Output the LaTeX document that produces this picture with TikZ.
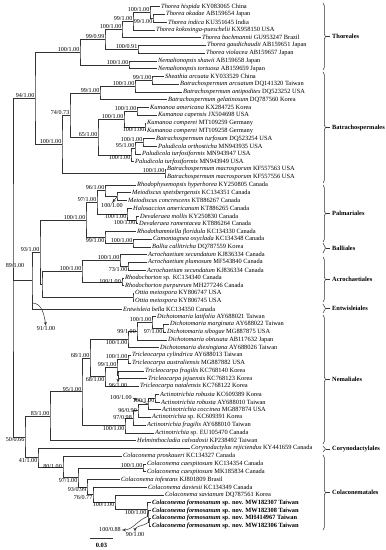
\documentclass[tikz,border=0pt]{standalone}
\usepackage{fontspec}
\setmainfont{Liberation Serif}
\usetikzlibrary{arrows,decorations.pathreplacing}

\begin{document}
\begin{tikzpicture}[
    x=1pt, y=-1pt,
    br/.style = {draw=black!80, line width=0.6pt},
    tip/.style = {anchor=west, inner sep=1pt, font=\fontsize{6.4}{7}\selectfont},
    newsp/.style = {tip, font=\fontsize{6.4}{7}\selectfont\bfseries},
    bsa/.style = {anchor=south east, inner sep=0.5pt, font=\fontsize{6.1}{7}\selectfont},
    bsb/.style = {anchor=north east, inner sep=0.5pt, font=\fontsize{6.1}{7}\selectfont},
    bsl/.style = {anchor=east, inner sep=1pt, font=\fontsize{6.1}{7}\selectfont},
    bsf/.style = {inner sep=0.5pt, font=\fontsize{6.1}{7}\selectfont},
    order/.style = {anchor=west, inner sep=0pt, font=\fontsize{6.4}{7}\selectfont\bfseries},
    brace/.style = {draw=black!80, line width=0.5pt, decorate, decoration={brace, amplitude=2.5pt}},
    pointer/.style = {draw=black!80, line width=0.5pt, -latex'}
]
    \useasboundingbox (0,0) rectangle (386,550);

    % Taxa
    \node[tip] (t1) at (160,6.7) {\textit{Thorea hispida} KY083065 China};
    \node[tip] (t2) at (165,14.45) {\textit{Thorea okadae} AB159654 Japan};
    \node[tip] (t3) at (167,22.2) {\textit{Thorea indica} KU351645 India};
    \node[tip] (t4) at (155,29.95) {\textit{Thorea kokosinga-pueschelii} KX958150 USA};
    \node[tip] (t5) at (201,37.7) {\textit{Thorea bachmannii} GU953247 Brazil};
    \node[tip] (t6) at (206,45.45) {\textit{Thorea gaudichaudii} AB159651 Japan};
    \node[tip] (t7) at (205,53.2) {\textit{Thorea violacea} AB159657 Japan};
    \node[tip] (t8) at (157,60.95) {\textit{Nemalionopsis shawii} AB159658 Japan};
    \node[tip] (t9) at (157,68.7) {\textit{Nemalionopsis tortuosa} AB159659 Japan};
    \node[tip] (t10) at (164,76.45) {\textit{Sheathia arcuata} KY033529 China};
    \node[tip] (t11) at (179,84.2) {\textit{Batrachospermum arcuatum} DQ141320 Taiwan};
    \node[tip] (t12) at (182,91.95) {\textit{Batrachospermum antipodites} DQ523252 USA};
    \node[tip] (t13) at (167,99.7) {\textit{Batrachospermum gelatinosum} DQ787560 Korea};
    \node[tip] (t14) at (149,107.45) {\textit{Kumanoa americana} KX284725 Korea};
    \node[tip] (t15) at (157,115.2) {\textit{Kumanoa capensis} JX504698 USA};
    \node[tip] (t16) at (146,122.95) {\textit{Kumanoa comperei} MT109259 Germany};
    \node[tip] (t17) at (146,130.7) {\textit{Kumanoa comperei} MT109258 Germany};
    \node[tip] (t18) at (155,138.45) {\textit{Batrachospermum turfosum} DQ523254 USA};
    \node[tip] (t19) at (157,146.2) {\textit{Paludicola orthosticha} MN943935 USA};
    \node[tip] (t20) at (141,153.95) {\textit{Paludicola turfosiformis} MN943947 USA};
    \node[tip] (t21) at (134,161.7) {\textit{Paludicola turfosiformis} MN943949 USA};
    \node[tip] (t22) at (166,169.45) {\textit{Batrachospermum macrosporum} KF557563 USA};
    \node[tip] (t23) at (166,177.2) {\textit{Batrachospermum macrosporum} KF557556 USA};
    \node[tip] (t24) at (136,184.95) {\textit{Rhodophysemopsis hyperborea} KY250805 Canada};
    \node[tip] (t25) at (131,192.7) {\textit{Meiodiscus spetsbergensis} KC134351 Canada};
    \node[tip] (t26) at (127,200.45) {\textit{Meiodiscus concrescens} KT886267 Canada};
    \node[tip] (t27) at (132,208.2) {\textit{Halosaccion americanum} KT886265 Canada};
    \node[tip] (t28) at (139,215.95) {\textit{Devaleraea mollis} KY250830 Canada};
    \node[tip] (t29) at (138,223.7) {\textit{Devaleraea ramentacea} KT886264 Canada};
    \node[tip] (t30) at (136,231.45) {\textit{Rhodothamniella floridula} KC134330 Canada};
    \node[tip] (t31) at (152,239.2) {\textit{Camontagnea oxyclada} KC134348 Canada};
    \node[tip] (t32) at (151,246.95) {\textit{Ballia callitricha} DQ787559 Korea};
    \node[tip] (t33) at (147,254.7) {\textit{Acrochaetium secundatum} KJ836334 Canada};
    \node[tip] (t34) at (147,262.45) {\textit{Acrochaetium plumosum} MF543840 Canada};
    \node[tip] (t35) at (146,270.2) {\textit{Acrochaetium secundatum} KJ836334 Canada};
    \node[tip] (t36) at (124,277.95) {\textit{Rhodochorton} sp. KC134340 Canada};
    \node[tip] (t37) at (124,285.7) {\textit{Rhodochorton purpureum} MH277246 Canada};
    \node[tip] (t38) at (134,293.45) {\textit{Ottia meiospora} KY806747 USA};
    \node[tip] (t39) at (134,301.2) {\textit{Ottia meiospora} KY806745 USA};
    \node[tip] (t40) at (122,308.95) {\textit{Entwisleia bella} KC134350 Canada};
    \node[tip] (t41) at (156,316.7) {\textit{Dichotomaria latifolia} AY688021 Taiwan};
    \node[tip] (t42) at (169,324.45) {\textit{Dichotomaria marginata} AY688022 Taiwan};
    \node[tip] (t43) at (166,332.2) {\textit{Dichotomaria sibogae} MG887875 USA};
    \node[tip] (t44) at (167,339.95) {\textit{Dichotomaria obtusata} AB117632 Japan};
    \node[tip] (t45) at (159,347.7) {\textit{Dichotomaria diesingiana} AY688026 Taiwan};
    \node[tip] (t46) at (131,355.45) {\textit{Tricleocarpa cylindrica} AY688013 Taiwan};
    \node[tip] (t47) at (131,363.2) {\textit{Tricleocarpa australiensis} MG887882 USA};
    \node[tip] (t48) at (144,370.95) {\textit{Tricleocarpa fragilis} KC768140 Korea};
    \node[tip] (t49) at (147,378.7) {\textit{Tricleocarpa jejuensis} KC768123 Korea};
    \node[tip] (t50) at (139,386.45) {\textit{Tricleocarpa natalensis} KC768122 Korea};
    \node[tip] (t51) at (159,394.2) {\textit{Actinotrichia robusta} KC609389 Korea};
    \node[tip] (t52) at (160,401.95) {\textit{Actinotrichia robusta} AY688010 Taiwan};
    \node[tip] (t53) at (161,409.7) {\textit{Actinotrichia coccinea} MG887874 USA};
    \node[tip] (t54) at (151,417.45) {\textit{Actinotrichia} sp. KC609391 Korea};
    \node[tip] (t55) at (146,425.2) {\textit{Actinotrichia fragilis} AY688010 Taiwan};
    \node[tip] (t56) at (154,432.95) {\textit{Actinotrichia} sp. EU105470 Canada};
    \node[tip] (t57) at (136,440.7) {\textit{Helminthocladia calvadosii} KP238492 Taiwan};
    \node[tip] (t58) at (190,448.45) {\textit{Corynodactylus rejiciendus} KY441659 Canada};
    \node[tip] (t59) at (122,456.2) {\textit{Colaconema proskaueri} KC134327 Canada};
    \node[tip] (t60) at (146,463.95) {\textit{Colaconema caespitosum} KC134354 Canada};
    \node[tip] (t61) at (146,471.7) {\textit{Colaconema caespitosum} MK185834 Canada};
    \node[tip] (t62) at (120,479.45) {\textit{Colaconema infestans} KJ801809 Brasil};
    \node[tip] (t63) at (147,487.2) {\textit{Colaconema daviesii} KC134349 Canada};
    \node[tip] (t64) at (164,494.95) {\textit{Colaconema savianum} DQ787561 Korea};
    \node[newsp] (t65) at (151,502.7) {\textit{Colaconema formosanum} sp. nov. MW182307 Taiwan};
    \node[newsp] (t66) at (151,510.45) {\textit{Colaconema formosanum} sp. nov. MW182308 Taiwan};
    \node[newsp] (t67) at (151,518.2) {\textit{Colaconema formosanum} sp. nov. MH414967 Taiwan};
    \node[newsp] (t68) at (151,525.95) {\textit{Colaconema formosanum} sp. nov. MW182306 Taiwan};

    % Thoreales
    \coordinate (n23) at (153,18.33);
    \coordinate (n123) at (150,12.51);
    \coordinate (n1234) at (133,21.23);
    \coordinate (n15) at (122,29.47);
    \coordinate (n67) at (138,49.33);
    \coordinate (nth) at (105,39.4);
    \coordinate (n89) at (129,64.83);
    \coordinate (nthor) at (80,52.11);
    \draw[br] (t2.west) -| (n23) |- (t3.west);
    \draw[br] (t1.west) -| (n123) |- (n23);
    \draw[br] (n123) -| (n1234) |- (t4.west);
    \draw[br] (n1234) -| (n15) |- (t5.west);
    \draw[br] (t6.west) -| (n67) |- (t7.west);
    \draw[br] (n15) -| (nth) |- (n67);
    \draw[br] (t8.west) -| (n89) |- (t9.west);
    \draw[br] (nth) -| (nthor) |- (n89);
    \node[bsb] at (n23) {99/1.00};
    \node[bsa] at (n123) {100/1.00};
    \node[bsa] at (n1234) {99/1.00};
    \node[bsa] at (n15) {100/1.00};
    \node[bsa] at (n67) {100/0.91};
    \node[bsa] at (nth) {99/0.99};
    \node[bsa] at (n89) {100/1.00};
    \node[bsa] at (nthor) {100/1.00};

    % Batrachospermales
    \coordinate (n1011) at (152,80.33);
    \coordinate (n12) at (135,86.14);
    \coordinate (n13) at (100,92.92);
    \coordinate (n1415) at (137,111.33);
    \coordinate (n1617) at (145,126.83);
    \coordinate (nkum) at (124,119.08);
    \coordinate (n1819) at (143,142.33);
    \coordinate (n20) at (135,148.14);
    \coordinate (n21) at (131,154.92);
    \coordinate (n65) at (98,137.0);
    \coordinate (n74) at (70,114.96);
    \coordinate (n2223) at (165,173.33);
    \coordinate (nbat) at (62,144.15);
    \coordinate (n94) at (35,98.13);
    \draw[br] (t10.west) -| (n1011) |- (t11.west);
    \draw[br] (n1011) -| (n12) |- (t12.west);
    \draw[br] (n12) -| (n13) |- (t13.west);
    \draw[br] (t14.west) -| (n1415) |- (t15.west);
    \draw[br] (t16.west) -| (n1617) |- (t17.west);
    \draw[br] (n1415) -| (nkum) |- (n1617);
    \draw[br] (t18.west) -| (n1819) |- (t19.west);
    \draw[br] (n1819) -| (n20) |- (t20.west);
    \draw[br] (n20) -| (n21) |- (t21.west);
    \draw[br] (nkum) -| (n65) |- (n21);
    \draw[br] (n13) -| (n74) |- (n65);
    \draw[br] (t22.west) -| (n2223) |- (t23.west);
    \draw[br] (n74) -| (nbat) |- (n2223);
    \draw[br] (nthor) -| (n94) |- (nbat);
    \node[bsa] at (n1011) {99/1.00};
    \node[bsa] at (n12) {100/1.00};
    \node[bsa] at (n13) {99/1.00};
    \node[bsa] at (n1415) {100/1.00};
    \node[bsb] at (n1617) {100/1.00};
    \node[bsa] at (nkum) {100/1.00};
    \node[bsa] at (n1819) {100/1.00};
    \node[bsa] at (n20) {95/1.00};
    \node[bsb] at (n21) {100/1.00};
    \node[bsa] at (n65) {65/1.00};
    \node[bsa] at (n74) {74/0.73};
    \node[bsa] at (n2223) {100/1.00};
    \node[bsa] at (nbat) {100/1.00};
    \node[bsa] at (n94) {94/1.00};

    % Palmariales, Balliales
    \coordinate (n2526) at (117,196.58);
    \coordinate (n24) at (105,190.76);
    \coordinate (n2829) at (136,219.83);
    \coordinate (n27) at (127,214.01);
    \coordinate (n97) at (97,202.39);
    \coordinate (n3132) at (133,243.08);
    \coordinate (n30) at (105,237.26);
    \coordinate (npal) at (86,219.83);
    \draw[br] (t25.west) -| (n2526) |- (t26.west);
    \draw[br] (t24.west) -| (n24) |- (n2526);
    \draw[br] (t28.west) -| (n2829) |- (t29.west);
    \draw[br] (t27.west) -| (n27) |- (n2829);
    \draw[br] (n24) -| (n97) |- (n27);
    \draw[br] (t31.west) -| (n3132) |- (t32.west);
    \draw[br] (t30.west) -| (n30) |- (n3132);
    \draw[br] (n97) -| (npal) |- (n30);
    \node[bsf] (l2526) at (112,206) {100/1.00};
    \draw[pointer] (n2526) -- (l2526.north);
    \node[bsa] at (n24) {96/1.00};
    \node[bsb] at (n2829) {100/1.00};
    \node[bsb] at (n27) {100/1.00};
    \node[bsa] at (n97) {97/1.00};
    \node[bsa] at (n3132) {100/1.00};
    \node[bsb] at (n30) {99/1.00};
    \node[bsa] at (npal) {100/1.00};

    % Acrochaetiales, Entwisleiales
    \coordinate (n3435) at (128,266.33);
    \coordinate (n33) at (120,260.51);
    \coordinate (n3637) at (122,281.83);
    \coordinate (nar) at (82,271.17);
    \coordinate (n3839) at (133,297.33);
    \coordinate (nacr) at (42,284.25);
    \coordinate (n93) at (40,252.04);
    \coordinate (n91) at (32,280.5);
    \coordinate (a91) at (32,303);
    \draw[br] (t34.west) -| (n3435) |- (t35.west);
    \draw[br] (t33.west) -| (n33) |- (n3435);
    \draw[br] (t36.west) -| (n3637) |- (t37.west);
    \draw[br] (n33) -| (nar) |- (n3637);
    \draw[br] (t38.west) -| (n3839) |- (t39.west);
    \draw[br] (nar) -| (nacr) |- (n3839);
    \draw[br] (npal) -| (n93) |- (nacr);
    \draw[br] (n93) -| (n91) |- (t40.west);
    \node[bsb] at (n3435) {73/1.00};
    \node[bsa] at (n33) {100/1.00};
    \node[bsl] at (n3637) {100/1.00};
    \node[bsa] at (nar) {100/1.00};
    \node[bsa] at (n93) {93/1.00};
    \node[bsf] (l91) at (46,329) {91/1.00};
    \draw[pointer] (a91) to[out=0,in=100] (l91.north);

    % Nemaliales
    \coordinate (n4243) at (163,328.33);
    \coordinate (n41) at (152,322.51);
    \coordinate (n44) at (137,331.23);
    \coordinate (n45) at (128,339.47);
    \coordinate (n4647) at (128,359.33);
    \coordinate (n4849) at (118,374.83);
    \coordinate (ntr) at (117,367.08);
    \coordinate (n50) at (105,376.76);
    \coordinate (n68) at (90,358.11);
    \coordinate (n5152) at (155,398.08);
    \coordinate (n53) at (148,403.89);
    \coordinate (n54) at (138,410.67);
    \coordinate (n55) at (133,417.94);
    \coordinate (n56) at (125,425.44);
    \coordinate (nnem) at (82,391.78);
    \coordinate (n83) at (50,416.24);
    \draw[br] (t42.west) -| (n4243) |- (t43.west);
    \draw[br] (t41.west) -| (n41) |- (n4243);
    \draw[br] (n41) -| (n44) |- (t44.west);
    \draw[br] (n44) -| (n45) |- (t45.west);
    \draw[br] (t46.west) -| (n4647) |- (t47.west);
    \draw[br] (t48.west) -| (n4849) |- (t49.west);
    \draw[br] (n4647) -| (ntr) |- (n4849);
    \draw[br] (ntr) -| (n50) |- (t50.west);
    \draw[br] (n45) -| (n68) |- (n50);
    \draw[br] (t51.west) -| (n5152) |- (t52.west);
    \draw[br] (n5152) -| (n53) |- (t53.west);
    \draw[br] (n53) -| (n54) |- (t54.west);
    \draw[br] (n54) -| (n55) |- (t55.west);
    \draw[br] (n55) -| (n56) |- (t56.west);
    \draw[br] (n68) -| (nnem) |- (n56);
    \draw[br] (nnem) -| (n83) |- (t57.west);
    \node[bsb] at (n4243) {97/1.00};
    \node[bsa] at (n41) {100/1.00};
    \node[bsl] at (n44) {99/1.00};
    \node[bsb] at (n45) {100/1.00};
    \node[bsa] at (n4647) {100/1.00};
    \node[bsf] (l4849) at (118,386) {96/1.00};
    \draw[pointer] (n4849) -- (l4849.north);
    \node[bsa] at (ntr) {99/1.00};
    \node[bsb] at (n50) {68/1.00};
    \node[bsa] at (n68) {68/1.00};
    \node[bsb] at (n5152) {100/1.00};
    \node[bsf] (l53) at (121,398) {100/1.00};
    \draw[pointer] (n53) -- (l53.east);
    \node[bsl] at (n54) {96/0.99};
    \node[bsl] at (n55) {97/0.98};
    \node[bsb] at (n56) {100/1.00};
    \node[bsa] at (nnem) {95/1.00};
    \node[bsa] at (n83) {83/1.00};

    % Corynodactylales, Colaconematales
    \coordinate (n6061) at (143,467.83);
    \coordinate (n6768) at (149,522.08);
    \coordinate (n66) at (148,516.26);
    \coordinate (nfor) at (147,509.48);
    \coordinate (n64) at (115,502.22);
    \coordinate (n63) at (93,494.71);
    \coordinate (n62) at (87,487.08);
    \coordinate (n97c) at (78,477.46);
    \coordinate (ncol) at (63,466.83);
    \coordinate (n41c) at (38,457.64);
    \coordinate (n50r) at (25,436.94);
    \draw[br] (t60.west) -| (n6061) |- (t61.west);
    \draw[br] (t67.west) -| (n6768) |- (t68.west);
    \draw[br] (t66.west) -| (n66) |- (n6768);
    \draw[br] (t65.west) -| (nfor) |- (n66);
    \draw[br] (t64.west) -| (n64) |- (nfor);
    \draw[br] (t63.west) -| (n63) |- (n64);
    \draw[br] (t62.west) -| (n62) |- (n63);
    \draw[br] (n6061) -| (n97c) |- (n62);
    \draw[br] (t59.west) -| (ncol) |- (n97c);
    \draw[br] (t58.west) -| (n41c) |- (ncol);
    \draw[br] (n83) -| (n50r) |- (n41c);
    \node[bsa] at (n6061) {100/1.00};
    \node[bsb] at (nfor) {100/1.00};
    \node[bsb] at (n64) {100/1.00};
    \node[bsb] at (n63) {76/0.77};
    \node[bsb] at (n62) {93/0.99};
    \node[bsb] at (n97c) {97/1.00};
    \node[bsl] at (ncol) {80/1.00};
    \node[bsb] at (n41c) {41/1.00};
    \node[bsb] at (n50r) {50/0.66};
    \node[bsf] (l66) at (110,530) {100/0.88};
    \draw[pointer] (n66) to[out=200,in=0] (l66.east);
    \node[bsf] (l6768) at (135,535) {90/1.00};
    \draw[pointer] (n6768) to[out=220,in=90] (l6768.north);

    % Backbone
    \coordinate (nroot) at (13,267.5);
    \draw[br] (n94) -| (nroot) |- (n50r);
    \draw[br] (nroot) |- (n91);
    \node[bsf] at (15,266) {89/1.00};

    % Orders
    \draw[brace] (323,3) -- (323,70);
    \draw[brace] (323,72) -- (323,183);
    \draw[brace] (323,185) -- (323,242);
    \draw[brace] (323,243) -- (323,253);
    \draw[brace] (323,257) -- (323,302);
    \draw[brace] (323,304) -- (323,313);
    \draw[brace] (323,315) -- (323,444);
    \draw[brace] (323,446) -- (323,452);
    \draw[brace] (323,455) -- (323,530);
    \foreach \yy/\oname in {36.5/Thoreales, 127.5/Batrachospermales, 213.5/Palmariales, 248/Balliales,
        279.5/Acrochaetiales, 308.5/Entwisleiales, 379.5/Nemaliales, 449/Corynodactylales, 492.5/Colaconematales} {
        \draw[br, line width=0.5pt] (326,\yy) -- (330,\yy);
        \node[order] at (332,\yy) {\oname};
    }

    % Scale
    \draw[br, line width=0.8pt] (90,538) -- (113,538);
    \node[bsf, font=\fontsize{6.5}{7}\selectfont\bfseries] (scale) at (101.5,545) {0.03};
\end{tikzpicture}
\end{document}
